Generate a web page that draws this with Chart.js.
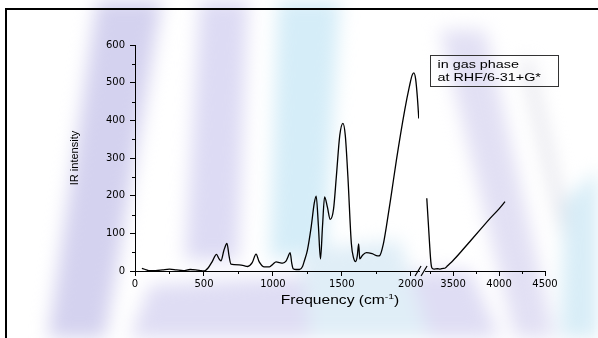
<!DOCTYPE html>
<html>
<head>
<meta charset="utf-8">
<script src="https://cdn.jsdelivr.net/npm/chart.js@4.4.1/dist/chart.umd.min.js"></script>
<style>
  html, body { margin: 0; padding: 0; background: #fff; }
  #wrap { position: relative; width: 598px; height: 338px; overflow: hidden; }
  .blur { position: absolute; left: 0; top: 0; width: 598px; height: 338px; }
  .shape { position: absolute; left: 0; top: 0; width: 598px; height: 338px; }
  #frame { position: absolute; left: 5px; top: 8px; width: 700px; height: 400px;
           border-top: 2px solid #000; border-left: 2px solid #000; }
  canvas { position: absolute; left: 0; top: 0; }
</style>
</head>
<body>
<div id="wrap">
  <!-- pale watermark behind the plot -->
  <div class="blur" style="filter: blur(9px);">
    <div class="shape" style="background:#d4d2ef; clip-path: polygon(97px 0, 162px 0, 105px 338px, 48px 338px);"></div>
    <div class="shape" style="background:#dddbf4; clip-path: polygon(200px 0, 248px 0, 238px 260px, 185px 260px);"></div>
    <div class="shape" style="background:#dfddf4; clip-path: polygon(150px 285px, 330px 275px, 470px 270px, 500px 338px, 130px 338px);"></div>
    <div class="shape" style="background:#d5edf8; clip-path: polygon(278px 0, 340px 0, 325px 250px, 270px 260px);"></div>
    <div class="shape" style="background:#e0eef7; clip-path: polygon(300px 250px, 400px 240px, 430px 338px, 310px 338px);"></div>
    <div class="shape" style="background:#e2e0f4; clip-path: polygon(440px 30px, 485px 30px, 555px 338px, 515px 338px);"></div>
    <div class="shape" style="background:#dcdce6; clip-path: polygon(522px 60px, 530px 60px, 585px 300px, 577px 300px);"></div>
    <div class="shape" style="background:#d8edf7; clip-path: polygon(565px 200px, 598px 170px, 598px 338px, 560px 338px);"></div>
  </div>
  <div id="frame"></div>
  <canvas id="irChart" width="598" height="338"></canvas>
</div>
<script>
// first segment of the broken axis (0 - 2060 cm-1)
const freqLow = [50, 75, 100, 150, 200, 250, 300, 350, 400, 440, 480, 502, 530, 560, 591, 610, 623, 645, 667, 682, 696,
  720, 756, 790, 817, 850, 878, 900, 938, 975, 1000, 1023, 1050, 1071, 1095, 1110, 1125, 1137, 1147, 1170, 1193,
  1215, 1229, 1250, 1278, 1300, 1314, 1330, 1345, 1360, 1375, 1395, 1416, 1440, 1460, 1485, 1508, 1525, 1544,
  1569, 1585, 1600, 1612, 1622, 1630, 1650, 1678, 1720, 1760, 1775, 1800, 1823, 1860, 1896, 1956, 1990, 2010,
  2022, 2035, 2048, 2058];
const irLow = [7, 4, 1, 1, 3, 5, 3, 1, 4, 3, 1, 0, 8, 25, 44, 32, 27, 55, 73, 40, 18,
  17, 16, 14, 12, 22, 45, 25, 11, 11, 18, 24, 22, 21, 26, 38, 49, 20, 6, 4, 4,
  12, 28, 55, 118, 180, 199, 120, 32, 120, 197, 170, 137, 165, 250, 360, 392, 360, 250,
  73, 35, 25, 40, 72, 32, 42, 49, 46, 40, 41, 70, 118, 206, 295, 427, 490, 520,
  526, 510, 460, 405];

// second segment (3130 - 4500 cm-1)
const freqHigh = [3214, 3230, 3245, 3258, 3270, 3290, 3330, 3360, 3390, 3415, 3440, 3500, 3600, 3700, 3800, 3900, 4000, 4065];
const irHigh = [193, 130, 70, 25, 8, 5, 6, 5, 7, 8, 14, 28, 55, 83, 111, 139, 165, 184];

const lowMin = 0, lowMax = 2060;
const highMin = 3130, highMax = 4500;
const lowTicks = [0, 500, 1000, 1500, 2000];
const highTicks = [3500, 4000, 4500];
const yTicks = [0, 100, 200, 300, 400, 500, 600];
const yMinorTicks = [50, 150, 250, 350, 450, 550];
const lowMinorTicks = [250, 750, 1250, 1750];
const highMinorTicks = [3250, 3750, 4250];
const legendLines = ["in gas phase", "at RHF/6-31+G*"];

const tickFont = { family: "DejaVu Sans", size: 10 };

const toPoints = (xs, ys) => xs.map((x, i) => ({ x: x, y: ys[i] }));
const setTicks = list => scale => { scale.ticks = list.map(v => ({ value: v })); };

const extras = {
  id: "extras",
  afterDraw(chart) {
    const ctx = chart.ctx;
    const y = chart.scales.y, x1 = chart.scales.x1, x2 = chart.scales.x2;
    const base = y.getPixelForValue(0);
    ctx.save();
    ctx.strokeStyle = "#000";
    ctx.lineWidth = 1;

    // minor ticks
    ctx.beginPath();
    yMinorTicks.forEach(v => {
      const py = Math.round(y.getPixelForValue(v)) + 0.5;
      ctx.moveTo(y.right - 3, py); ctx.lineTo(y.right, py);
    });
    lowMinorTicks.forEach(v => {
      const px = Math.round(x1.getPixelForValue(v)) + 0.5;
      ctx.moveTo(px, base); ctx.lineTo(px, base + 3);
    });
    highMinorTicks.forEach(v => {
      const px = Math.round(x2.getPixelForValue(v)) + 0.5;
      ctx.moveTo(px, base); ctx.lineTo(px, base + 3);
    });
    ctx.stroke();

    // second axis line after the break
    const breakX = x1.right;
    ctx.beginPath();
    ctx.moveTo(breakX + 6, Math.round(base) + 0.5);
    ctx.lineTo(x2.right, Math.round(base) + 0.5);
    ctx.stroke();

    // break marks
    ctx.lineWidth = 1.2;
    ctx.beginPath();
    ctx.moveTo(breakX - 4, base + 5); ctx.lineTo(breakX + 2, base - 5);
    ctx.moveTo(breakX + 2, base + 5); ctx.lineTo(breakX + 8, base - 5);
    ctx.stroke();

    // x axis title, stretched a little like the original
    ctx.fillStyle = "#000";
    ctx.textBaseline = "alphabetic";
    const cx = (chart.chartArea.left + chart.chartArea.right) / 2;
    ctx.save();
    ctx.translate(cx, 304);
    ctx.scale(1.3, 1);
    ctx.font = "12px 'Liberation Sans', Arial, sans-serif";
    const main = "Frequency (cm";
    const sup = "-1";
    const tail = ")";
    const wMain = ctx.measureText(main).width;
    const wTail = ctx.measureText(tail).width;
    ctx.font = "8px 'Liberation Sans', Arial, sans-serif";
    const wSup = ctx.measureText(sup).width;
    let sx = -(wMain + wSup + wTail) / 2;
    ctx.font = "12px 'Liberation Sans', Arial, sans-serif";
    ctx.fillText(main, sx, 0);
    sx += wMain;
    ctx.font = "8px 'Liberation Sans', Arial, sans-serif";
    ctx.fillText(sup, sx, -5);
    sx += wSup;
    ctx.font = "12px 'Liberation Sans', Arial, sans-serif";
    ctx.fillText(tail, sx, 0);
    ctx.restore();

    // legend box
    ctx.lineWidth = 1;
    ctx.strokeStyle = "#333";
    ctx.strokeRect(430.5, 55.5, 128, 31);
    ctx.font = "11.5px 'Liberation Sans', Arial, sans-serif";
    legendLines.forEach((t, i) => {
      ctx.save();
      ctx.translate(437.5, 68 + i * 13);
      ctx.scale(1.25, 1);
      ctx.fillText(t, 0, 0);
      ctx.restore();
    });
    ctx.restore();
  }
};

const gridOpts = { drawOnChartArea: false, drawTicks: true, tickLength: 5, color: "#000", tickColor: "#000" };
const xTickOpts = () => ({ color: "#000", font: tickFont, padding: 2, maxRotation: 0, autoSkip: false,
                           callback: v => String(v) });

new Chart(document.getElementById("irChart"), {
  type: "line",
  data: {
    datasets: [
      {
        data: toPoints(freqLow, irLow),
        xAxisID: "x1", yAxisID: "y",
        borderColor: "#000", borderWidth: 1.3, pointRadius: 0,
        cubicInterpolationMode: "monotone", fill: false
      },
      {
        data: toPoints(freqHigh, irHigh),
        xAxisID: "x2", yAxisID: "y",
        borderColor: "#000", borderWidth: 1.3, pointRadius: 0,
        cubicInterpolationMode: "monotone", fill: false
      }
    ]
  },
  options: {
    responsive: false,
    animation: false,
    devicePixelRatio: 1,
    layout: { padding: { left: 68, right: 53, top: 45, bottom: 37 } },
    plugins: { legend: { display: false }, tooltip: { enabled: false } },
    scales: {
      x1: {
        type: "linear", position: "bottom", stack: "freq", stackWeight: 2060 * 0.138,
        min: lowMin, max: lowMax,
        grid: gridOpts, border: { display: true, color: "#000", width: 1 }, ticks: xTickOpts(),
        afterBuildTicks: setTicks(lowTicks),
        afterFit: s => { s.height = 30; }
      },
      x2: {
        type: "linear", position: "bottom", stack: "freq", stackWeight: 1370 * 0.092,
        min: highMin, max: highMax,
        grid: gridOpts, border: { display: false }, ticks: xTickOpts(),
        afterBuildTicks: setTicks(highTicks),
        afterFit: s => { s.height = 30; }
      },
      y: {
        type: "linear", position: "left", min: 0, max: 600,
        grid: gridOpts,
        border: { display: true, color: "#000", width: 1 },
        ticks: { color: "#000", font: tickFont, padding: 5, callback: v => String(v) },
        afterBuildTicks: setTicks(yTicks),
        title: { display: true, text: "IR intensity", color: "#000", padding: 0,
                 font: { family: "Liberation Sans", size: 11 } },
        afterFit: s => { s.width = 67; }
      }
    }
  },
  plugins: [extras]
});
</script>
</body>
</html>
